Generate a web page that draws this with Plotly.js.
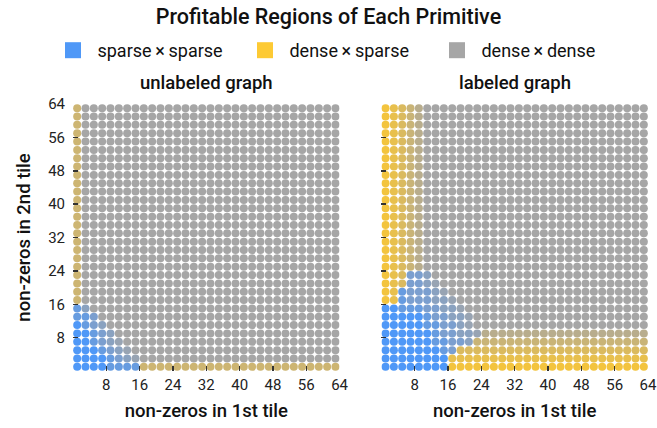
<!DOCTYPE html>
<html><head><meta charset="utf-8">
<script src="https://cdn.plot.ly/plotly-3.0.1.min.js"></script>
<style>html,body{margin:0;padding:0;background:#fff}</style>
</head><body><div id="chart" style="width:657px;height:428px"></div>
<script>
// grid positions (non-zeros per tile), shared by both axes
const tileNnz = [1,3,5,7,9,11,13,15,17,19,21,23,25,27,29,31,33,35,37,39,41,43,45,47,49,51,53,55,57,59,61,63];
const axisTicks = [8,16,24,32,40,48,56,64];
const primitives = ['sparse\u2009\u00d7\u2009sparse','dense\u2009\u00d7\u2009sparse','dense\u2009\u00d7\u2009dense'];
const panelTitles = ['unlabeled graph','labeled graph'];

// Profitable primitive per cell, rows from y=63 (top) down to y=1 (bottom), columns x=1..63.
// B/b/c/d/e: sparse×sparse share (strong -> weak, rest dense×dense)
// Y/y/u/v/w/t: dense×sparse share (strong -> weak, rest dense×dense);  '.' dense×dense
const unlabeledRows = [
 "t...............................",
 "t...............................",
 "t...............................",
 "t...............................",
 "t...............................",
 "t...............................",
 "t...............................",
 "t...............................",
 "t...............................",
 "t...............................",
 "t...............................",
 "t...............................",
 "t...............................",
 "t...............................",
 "t...............................",
 "t...............................",
 "t...............................",
 "t...............................",
 "t...............................",
 "t...............................",
 "t...............................",
 "t...............................",
 "t...............................",
 "t...............................",
 "bd..............................",
 "bbc.............................",
 "Bbcd............................",
 "BBbcd...........................",
 "BBbcde..........................",
 "BBBbcde.........................",
 "BBBBbcde........................",
 "BBBBbbbbtttttttttttttttttttttttt"
];
const labeledRows = [
 "Yyuvw...........................",
 "Yyuvw...........................",
 "Yyuvw...........................",
 "Yyuvw...........................",
 "Yyuvw...........................",
 "Yyuvw...........................",
 "Yyuvw...........................",
 "Yyuvw...........................",
 "Yyuvw...........................",
 "Yyuvw...........................",
 "Yyuvw...........................",
 "Yyuvw...........................",
 "Yyuvw...........................",
 "Yyuvw...........................",
 "Yyuvw...........................",
 "Yyuvw...........................",
 "Yyuvw...........................",
 "Yyuvw...........................",
 "Yyuvw...........................",
 "Yyuvw...........................",
 "Yyuccd..........................",
 "Yyuccde.........................",
 "Yybcccde........................",
 "Yybcccdde.......................",
 "BBbbbccdde......................",
 "BBBBBbccdde.....................",
 "BBBBBbbccde.....................",
 "BBBBBBbccddewwwwwwwwwwwwwwwwwwww",
 "BBBBBBbbccdvvvvvvvvvvvvvvvvvvvvv",
 "BBBBBBBbcuuuuuuuuuuuuuuuuuuuuuuu",
 "BBBBBBBByyyyyyyyyyyyyyyyyyyyyyyy",
 "BBBBBBBBYYYYYYYYYYYYYYYYYYYYYYYY"
];

const COL = {blue:[79,152,247], yellow:[243,196,62], gray:[166,166,166]};
const LEVEL = {
  'B':['blue',1.0],'b':['blue',0.72],'c':['blue',0.5],'d':['blue',0.32],'e':['blue',0.16],
  'Y':['yellow',1.0],'y':['yellow',0.86],'u':['yellow',0.68],'v':['yellow',0.45],'w':['yellow',0.24],'t':['yellow',0.5],
  '.':['gray',0]
};
function cellColor(ch){
  const [name,f] = LEVEL[ch] || LEVEL['.'];
  const c = COL[name], g = COL.gray;
  const m = [0,1,2].map(k=>Math.round(g[k]*(1-f)+c[k]*f));
  return 'rgb('+m.join(',')+')';
}
function panelTrace(rows, xa, ya){
  const x=[],y=[],color=[];
  const n = rows.length;
  rows.forEach((row,r)=>{
    const yv = tileNnz[n-1-r];
    for(let i=0;i<tileNnz.length;i++){
      x.push(tileNnz[i]); y.push(yv); color.push(cellColor(row[i]||'.'));
    }
  });
  return {type:'scatter',mode:'markers',x,y,xaxis:xa,yaxis:ya,showlegend:false,hoverinfo:'skip',
    marker:{size:8,color:color,line:{width:0}}};
}
const legendColors = ['rgb(79,152,247)','rgb(253,202,52)','rgb(166,166,166)'];
const traces = [
  panelTrace(unlabeledRows,'x','y'),
  panelTrace(labeledRows,'x2','y2')
];
primitives.forEach((p,k)=>traces.push({type:'scatter',mode:'markers',x:[null],y:[null],name:'\u00a0'+p,
  marker:{symbol:'square',size:16,color:legendColors[k]},showlegend:true,hoverinfo:'skip'}));

const FONT='Roboto, "Noto Sans", sans-serif';
const axBase = {range:[0,64],tickvals:axisTicks,ticktext:axisTicks.map(String),ticks:'inside',ticklen:5,tickwidth:1.5,
  tickcolor:'#333',showgrid:false,zeroline:false,showline:false,fixedrange:true,
  tickfont:{family:FONT,size:15,color:'#222'}};
const titleFont = {family:FONT,size:18.5,color:'#111',weight:500};
const layout = {
  width:657,height:428,margin:{l:73,r:9,t:104,b:57},paper_bgcolor:'#fff',plot_bgcolor:'#fff',
  font:{family:FONT,color:'#222'},
  title:{text:'Profitable Regions of Each Primitive',font:{family:FONT,size:21.5,color:'#111',weight:500},
    x:0.5,xref:'container',xanchor:'center',y:1-16/428,yref:'container',yanchor:'middle'},
  showlegend:true,
  legend:{orientation:'h',x:53/657,xref:'container',xanchor:'left',y:1-32/428,yref:'container',yanchor:'top',
    entrywidth:147,entrywidthmode:'pixels',font:{family:FONT,size:18,color:'#111'},itemclick:false,itemdoubleclick:false},
  xaxis:Object.assign({},axBase,{domain:[0,0.4637],anchor:'y',ticklabelstandoff:3,title:{text:'non-zeros in 1st tile',font:titleFont,standoff:11}}),
  xaxis2:Object.assign({},axBase,{domain:[0.5363,1],anchor:'y2',ticklabelstandoff:3,title:{text:'non-zeros in 1st tile',font:titleFont,standoff:11}}),
  yaxis:Object.assign({},axBase,{domain:[0,1],anchor:'x',ticklabelstandoff:7,title:{text:'non-zeros in 2nd tile',font:titleFont,standoff:12}}),
  yaxis2:Object.assign({},axBase,{domain:[0,1],anchor:'x2',showticklabels:false}),
  annotations: panelTitles.map((t,k)=>({text:t,xref:k?'x2 domain':'x domain',yref:'paper',x:0.5,y:1,yanchor:'bottom',
    yshift:8,showarrow:false,font:titleFont}))
};
Plotly.newPlot('chart',traces,layout,{displayModeBar:false,staticPlot:true});
</script></body></html>
